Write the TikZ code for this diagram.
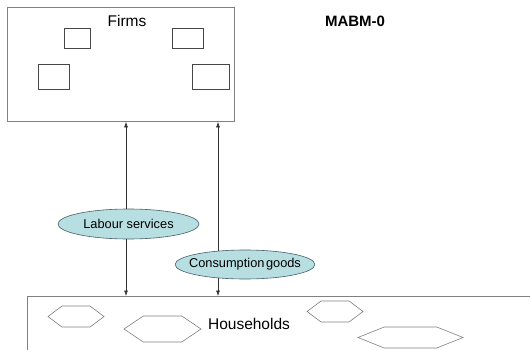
\documentclass[tikz,border=0pt]{standalone}
\usepackage{fontspec}
\setmainfont{Liberation Sans}
\usetikzlibrary{arrows.meta,shapes.geometric}
\definecolor{boxgray}{RGB}{128,128,128}
\definecolor{cellgray}{RGB}{70,70,70}
\definecolor{flowfill}{RGB}{183,222,224}
\definecolor{flowedge}{RGB}{70,95,105}
\tikzset{
  agent/.style={draw=boxgray, line width=0.9pt, rectangle, anchor=north west, inner sep=0pt},
  cell/.style={draw=cellgray, line width=0.6pt, rectangle, inner sep=0pt},
  flowlabel/.style={ellipse, draw=flowedge, line width=0.6pt, fill=flowfill, inner sep=0pt, font=\fontsize{12.8}{13}\selectfont},
  flow/.style={draw=black!80, line width=0.55pt, {Latex[length=5.5pt,width=4pt]}-{Latex[length=5.5pt,width=4pt]}},
}
\newcommand{\hexcell}[4]{% cx, cy, width, height
  \draw[draw=boxgray, line width=0.6pt] (#1-#3/2,#2) -- (#1-#3/4,#2-#4/2) -- (#1+#3/4,#2-#4/2)
    -- (#1+#3/2,#2) -- (#1+#3/4,#2+#4/2) -- (#1-#3/4,#2+#4/2) -- cycle;}
\begin{document}
\begin{tikzpicture}[x=1pt, y=-1pt]
\useasboundingbox (0,0) rectangle (530,350);
\clip (0,0) rectangle (530,350);
% agents
\node[agent, minimum width=227pt, minimum height=114pt] (firms) at (7,7){};
\node[agent, minimum width=520pt, minimum height=80pt] (hh) at (27,296){};
\node[font=\fontsize{15.5}{16}\selectfont] (firmstxt) at (127,21){Firms};
\node[font=\fontsize{15.5}{16}\selectfont] (hhtxt) at (249,324){Households};
\node[font=\bfseries\fontsize{15}{16}\selectfont] (title) at (355,21){MABM-0};
% firms
\node[cell, minimum width=26pt, minimum height=20pt] (f1) at (77,38){};
\node[cell, minimum width=31pt, minimum height=20pt] (f2) at (187.5,38){};
\node[cell, minimum width=31pt, minimum height=25pt] (f3) at (53.5,76.5){};
\node[cell, minimum width=37pt, minimum height=25pt] (f4) at (210.5,76.5){};
% households
\hexcell{76}{316.5}{56}{21}
\hexcell{162.5}{329}{77}{26}
\hexcell{335}{311.5}{56}{21}
\hexcell{410.5}{337.5}{105}{21}
% flows
\coordinate (lx) at (126,0);
\coordinate (cx) at (218,0);
\draw[flow] (firms.south -| lx) -- (hh.north -| lx);
\draw[flow] (firms.south -| cx) -- (hh.north -| cx);
\node[flowlabel, minimum width=141pt, minimum height=30pt] (labour) at (128.5,224){Labour services};
\node[flowlabel, inner xsep=-6.5pt, minimum width=136pt, minimum height=29pt] (cons) at (245,264.5){Consumption\hspace{0.12em}goods};
\end{tikzpicture}
\end{document}
